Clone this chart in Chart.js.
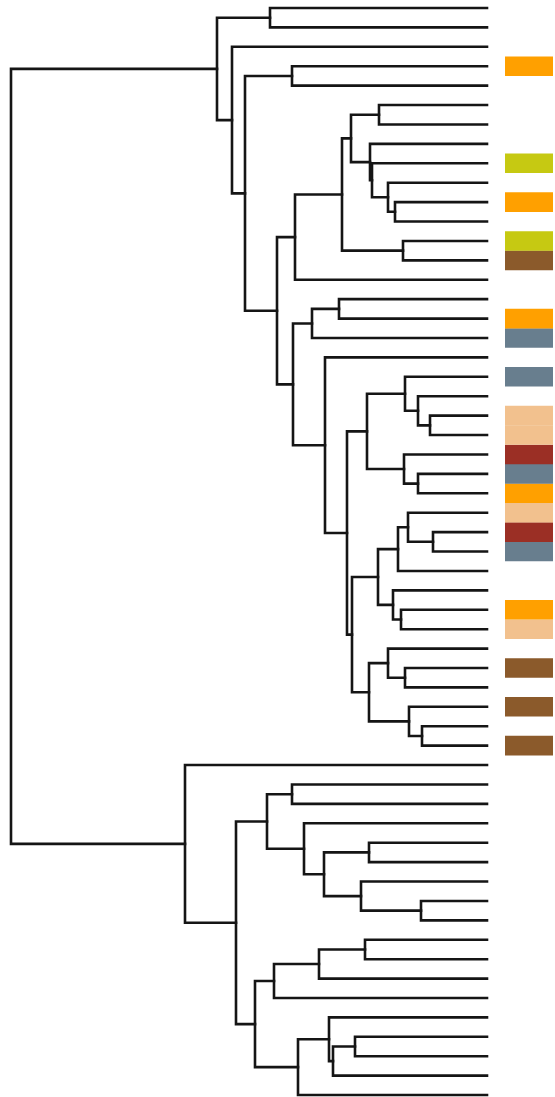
<!DOCTYPE html>
<html>
<head>
<meta charset="utf-8">
<script src="https://cdn.jsdelivr.net/npm/chart.js@4/dist/chart.umd.min.js"></script>
<style>
  html, body { margin: 0; padding: 0; background: #fff; }
  #wrap { width: 555px; height: 1097px; position: relative; }
</style>
</head>
<body>
<div id="wrap"><canvas id="tree"></canvas></div>
<script>
// 57 leaves, numbered top to bottom
const leafCount = 57;

// linkage: [left, right, height]; ids >= 57 refer to earlier merges (57 + index)
const merges = [
  [0, 1, 2.17], [3, 4, 1.95], [5, 6, 1.08], [10, 11, 0.92], [9, 60, 0.99],
  [8, 61, 1.15], [7, 62, 1.17], [59, 63, 1.36], [12, 13, 0.84], [64, 65, 1.45],
  [66, 14, 1.92], [15, 16, 1.48], [68, 17, 1.75], [21, 22, 0.57], [20, 70, 0.69],
  [19, 71, 0.82], [24, 25, 0.69], [23, 73, 0.83], [72, 74, 1.20], [27, 28, 0.54],
  [26, 76, 0.79], [77, 29, 0.89], [31, 32, 0.86], [30, 79, 0.94], [78, 80, 1.09],
  [34, 35, 0.82], [33, 82, 0.99], [37, 38, 0.65], [36, 84, 0.78], [83, 85, 1.18],
  [81, 86, 1.35], [75, 87, 1.40], [18, 88, 1.62], [69, 89, 1.94], [67, 90, 2.10],
  [58, 91, 2.42], [2, 92, 2.55], [57, 93, 2.70],
  [40, 41, 1.95], [43, 44, 1.18], [46, 47, 0.66], [45, 97, 1.26], [96, 98, 1.63],
  [42, 99, 1.83], [95, 100, 2.20], [48, 49, 1.22], [102, 50, 1.68], [103, 51, 2.13],
  [53, 54, 1.32], [105, 55, 1.54], [52, 106, 1.58], [107, 56, 1.89], [104, 108, 2.32],
  [101, 109, 2.51], [39, 110, 3.02], [94, 111, 4.76]
];

// colour strip next to the leaves
const markedLeaves = [3, 8, 10, 12, 13, 16, 17, 19, 21, 22, 23, 24, 25, 26, 27, 28, 31, 32, 34, 36, 38];
const markedGroups = ["orange", "lime", "orange", "lime", "brown", "orange", "slate", "slate", "peach", "peach",
  "red", "slate", "orange", "peach", "red", "slate", "orange", "peach", "brown", "brown", "brown"];
const groupColors = {
  orange: "#ffa000",
  lime: "#c6c912",
  brown: "#8b5a2b",
  slate: "#687e8e",
  peach: "#f2c18e",
  red: "#9b2f25"
};

// node positions: leaves at height 0, merges at mean of children
const pos = [];
for (let i = 0; i < leafCount; i++) pos.push({ h: 0, y: i });
merges.forEach(([a, b, h]) => {
  pos.push({ h: h, y: (pos[a].y + pos[b].y) / 2 });
});

const datasets = [];
merges.forEach(([a, b, h]) => {
  datasets.push({
    data: [
      { x: pos[a].h, y: pos[a].y },
      { x: h, y: pos[a].y },
      { x: h, y: pos[b].y },
      { x: pos[b].h, y: pos[b].y }
    ],
    showLine: true,
    borderColor: "#151515",
    borderWidth: 2.6,
    pointRadius: 0,
    borderCapStyle: "square",
    borderJoinStyle: "miter",
    tension: 0
  });
});

markedLeaves.forEach((leaf, i) => {
  datasets.push({
    data: [{ x: -0.18, y: leaf }, { x: -0.66, y: leaf }],
    showLine: true,
    borderColor: groupColors[markedGroups[i]],
    borderWidth: 19.6,
    borderCapStyle: "butt",
    pointRadius: 0
  });
});

new Chart(document.getElementById("tree"), {
  type: "scatter",
  data: { datasets },
  options: {
    responsive: true,
    maintainAspectRatio: false,
    animation: false,
    layout: { padding: 0 },
    plugins: { legend: { display: false }, tooltip: { enabled: false } },
    scales: {
      x: { type: "linear", reverse: true, min: -0.68, max: 4.87, display: false },
      y: { type: "linear", reverse: true, min: -0.412, max: 56.1, display: false }
    }
  }
});
</script>
</body>
</html>
